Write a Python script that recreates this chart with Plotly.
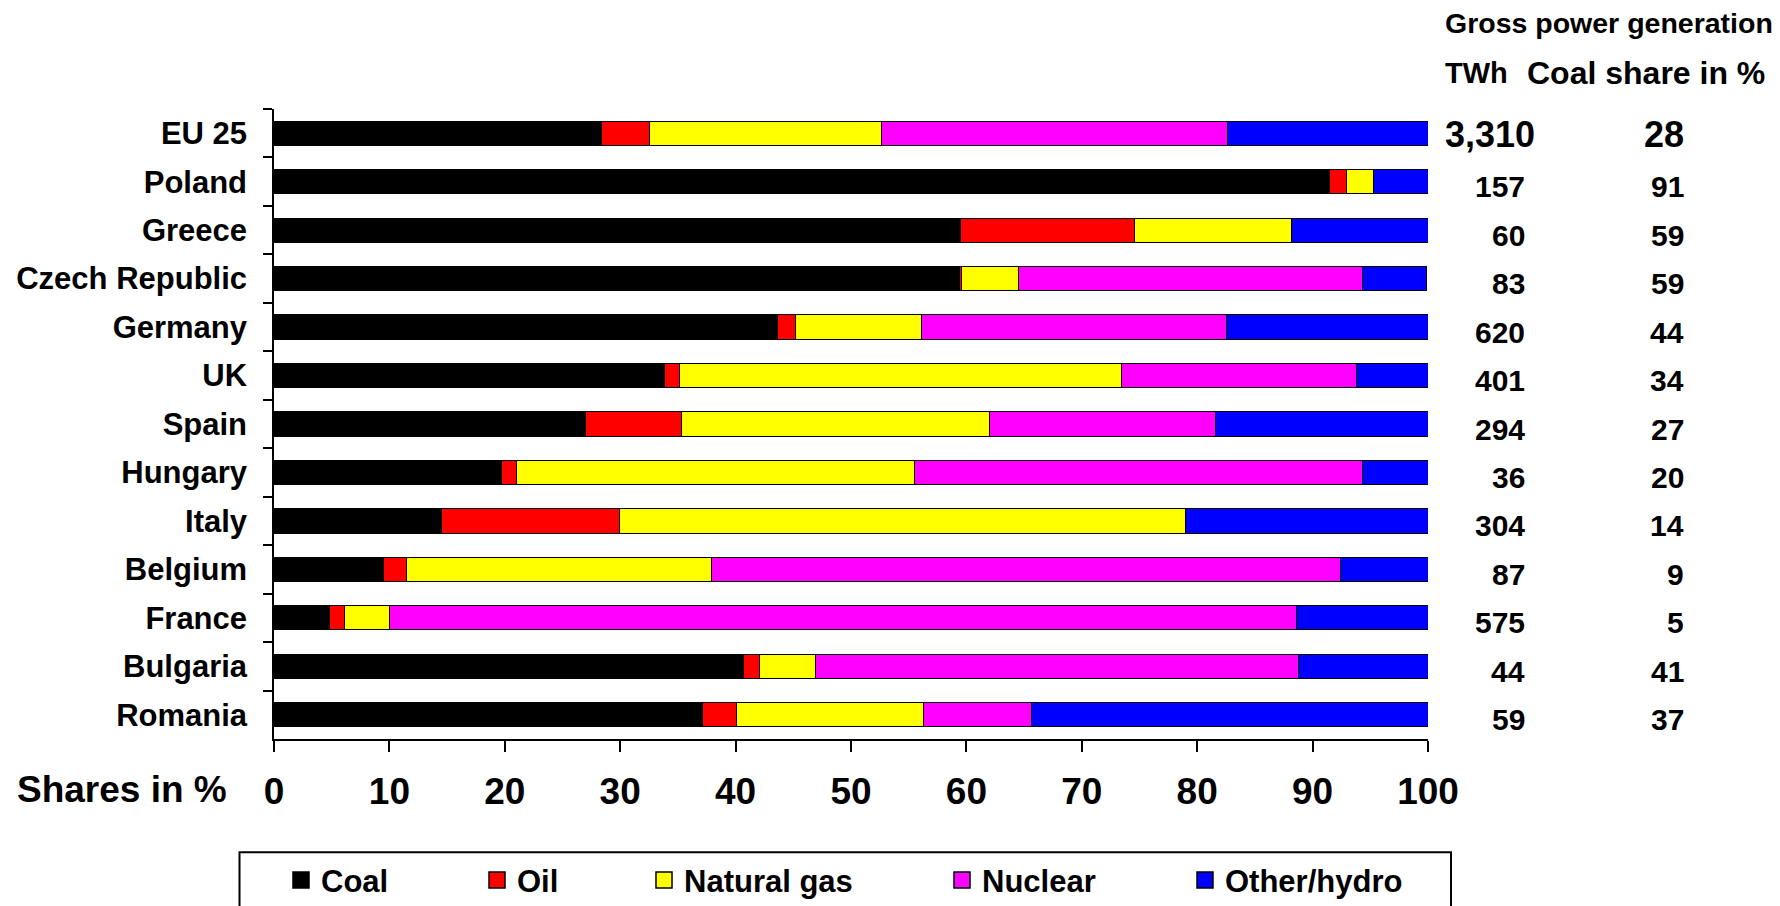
import plotly.graph_objects as go

countries = ["EU 25", "Poland", "Greece", "Czech Republic", "Germany", "UK", "Spain",
             "Hungary", "Italy", "Belgium", "France", "Bulgaria", "Romania"]
coal = [28.4, 91.5, 59.5, 59.4, 43.6, 33.8, 27.0, 19.7, 14.5, 9.5, 4.8, 40.7, 37.1]
oil = [4.1, 1.4, 15.1, 0.2, 1.6, 1.3, 8.3, 1.3, 15.4, 2.0, 1.3, 1.4, 3.0]
gas = [20.1, 2.4, 13.6, 4.9, 10.9, 38.3, 26.7, 34.5, 49.1, 26.4, 3.9, 4.8, 16.2]
nuclear = [30.0, 0.0, 0.0, 29.8, 26.4, 20.4, 19.6, 38.8, 0.0, 54.5, 78.6, 41.9, 9.3]
other = [17.4, 4.7, 11.8, 5.6, 17.5, 6.2, 18.4, 5.7, 21.0, 7.6, 11.4, 11.2, 34.4]
twh = ["3,310", "157", "60", "83", "620", "401", "294", "36", "304", "87", "575", "44", "59"]
coal_share = ["28", "91", "59", "59", "44", "34", "27", "20", "14", "9", "5", "41", "37"]
x_ticks = [0, 10, 20, 30, 40, 50, 60, 70, 80, 90, 100]

series = [("Coal", coal, "#000000", 151),
          ("Oil", oil, "#FF0000", 122),
          ("Natural gas", gas, "#FFFF00", 253),
          ("Nuclear", nuclear, "#FF00FF", 198),
          ("Other/hydro", other, "#0000FF", 180)]

FONT = "Liberation Sans, Arial, sans-serif"

fig = go.Figure()
for name, vals, color, lw in series:
    fig.add_trace(go.Bar(
        y=countries, x=vals, name=name, orientation="h",
        marker=dict(color=color, line=dict(color="#000000", width=1)),
        legendgroup=name, showlegend=False,
    ))
# legend keys: larger square swatches like the original
for name, vals, color, lw in series:
    fig.add_trace(go.Scatter(
        x=[None], y=[None], mode="markers", name=name, legendgroup=name,
        marker=dict(symbol="square", size=16, color=color,
                    line=dict(color="#000000", width=1.5)),
        legendwidth=lw, showlegend=True, hoverinfo="skip",
    ))

# page body has an 8px default margin, so the figure starts at (8, 8) in the window
OFF = 8
WIN_W, WIN_H = 1780, 906
W, H = WIN_W - OFF, WIN_H - OFF
# plot area in window pixels
L, R, T, B = 274, 1428, 108.5, 739.5


def px_x(p):
    return (p - L) / (R - L)


def px_y(p):
    return (B - p) / (B - T)


annotations = []
hdr_font = dict(family=FONT, size=28.5, color="#000000", weight="bold")
annotations.append(dict(text="Gross power generation", x=px_x(1443), y=px_y(22),
                        xref="paper", yref="paper", xanchor="left", yanchor="middle",
                        showarrow=False, font=hdr_font))
annotations.append(dict(text="TWh", x=px_x(1476), y=px_y(72),
                        xref="paper", yref="paper", xanchor="center", yanchor="middle",
                        showarrow=False, font=dict(hdr_font, size=29)))
annotations.append(dict(text="Coal share in %", x=px_x(1646), y=px_y(72),
                        xref="paper", yref="paper", xanchor="center", yanchor="middle",
                        showarrow=False, font=dict(hdr_font, size=32)))

for i, (c, t, s) in enumerate(zip(countries, twh, coal_share)):
    big = i == 0
    f = dict(family=FONT, size=36 if big else 30, color="#000000", weight="bold")
    annotations.append(dict(text=t, x=px_x(1537 if big else 1527), y=c, yshift=-1 if big else -5,
                            xref="paper", yref="y", xanchor="right", yanchor="middle",
                            showarrow=False, font=f))
    annotations.append(dict(text=s, x=px_x(1686), y=c, yshift=-1 if big else -5,
                            xref="paper", yref="y", xanchor="right", yanchor="middle",
                            showarrow=False, font=f))

annotations.append(dict(text="Shares in %", x=px_x(122), y=px_y(790),
                        xref="paper", yref="paper", xanchor="center", yanchor="middle",
                        showarrow=False,
                        font=dict(family=FONT, size=37, color="#000000", weight="bold")))

fig.update_layout(
    width=W, height=H,
    margin=dict(l=L - OFF, r=W - (R - OFF), t=T - OFF, b=H - (B - OFF), autoexpand=False),
    barmode="stack", bargap=0.5,
    plot_bgcolor="#FFFFFF", paper_bgcolor="#FFFFFF",
    font=dict(family=FONT, color="#000000"),
    showlegend=True,
    legend=dict(orientation="h", x=px_x(281), y=px_y(881), xanchor="left", yanchor="middle",
                font=dict(family=FONT, size=31, color="#000000", weight="bold"),
                bgcolor="rgba(0,0,0,0)", borderwidth=0, traceorder="normal"),
    annotations=annotations,
    shapes=[dict(type="rect", xref="paper", yref="paper",
                 x0=px_x(239.5), x1=px_x(1451), y0=px_y(853), y1=px_y(930),
                 line=dict(color="#000000", width=2), fillcolor="rgba(0,0,0,0)")],
)

fig.update_xaxes(range=[0, 100], tickvals=x_ticks, ticks="outside", ticklen=11,
                 tickcolor="#000000", tickwidth=1.5, showline=True, linecolor="#000000",
                 linewidth=1.5, showgrid=False, zeroline=False, ticklabelstandoff=8,
                 tickfont=dict(family=FONT, size=37, color="#000000", weight="bold"))
fig.update_yaxes(autorange="reversed", ticks="outside", ticklen=9, tickson="boundaries",
                 tickcolor="#000000", tickwidth=1.5, showline=True, linecolor="#000000",
                 linewidth=1.5, showgrid=False, zeroline=False, ticklabelstandoff=19,
                 tickfont=dict(family=FONT, size=31, color="#000000", weight="bold"))

fig.write_html("out.html")
